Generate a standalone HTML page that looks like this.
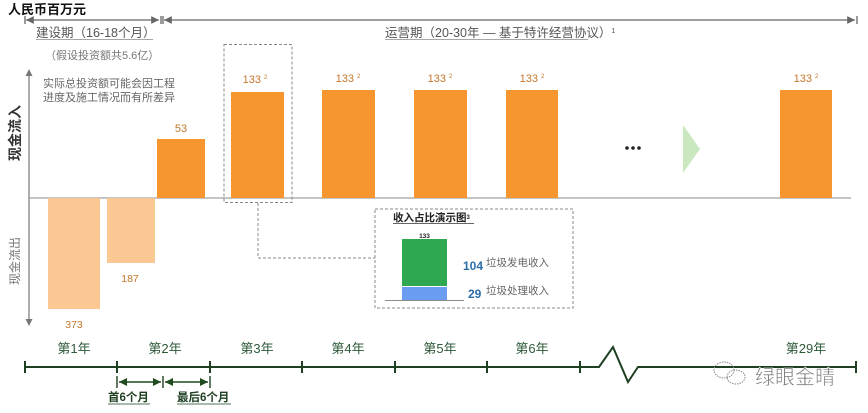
<!DOCTYPE html>
<html><head><meta charset="utf-8">
<style>
html,body{margin:0;padding:0;background:#fff;}
svg{display:block;font-family:"Liberation Sans","Noto Sans CJK SC",sans-serif;}
</style></head>
<body>
<svg width="868" height="413" viewBox="0 0 868 413" xmlns="http://www.w3.org/2000/svg">
<defs>
<marker id="ah" viewBox="0 0 10 10" refX="10" refY="5" markerWidth="6" markerHeight="6" orient="auto-start-reverse"><path d="M0,0 L10,5 L0,10 z" fill="#666"/></marker>
<marker id="ag" viewBox="0 0 10 10" refX="10" refY="5" markerWidth="5" markerHeight="5" orient="auto-start-reverse"><path d="M0,0 L10,5 L0,10 z" fill="#1e4a1e"/></marker>
</defs>
<rect width="868" height="413" fill="#fff"/>
<text x="8" y="14" font-size="13" font-weight="bold" fill="#111">人民币百万元</text>
<line x1="25" y1="16" x2="25" y2="24" stroke="#666" stroke-width="1.3"/>
<line x1="26" y1="20" x2="159" y2="20" stroke="#666" stroke-width="1.3" marker-start="url(#ah)" marker-end="url(#ah)"/>
<line x1="161" y1="16" x2="161" y2="24" stroke="#666" stroke-width="1.3"/>
<line x1="163" y1="16" x2="163" y2="24" stroke="#666" stroke-width="1.3"/>
<line x1="164" y1="20" x2="855" y2="20" stroke="#666" stroke-width="1.3" marker-start="url(#ah)" marker-end="url(#ah)"/>
<line x1="857" y1="16" x2="857" y2="24" stroke="#666" stroke-width="1.3"/>
<text x="36" y="37" font-size="12.5" fill="#555">建设期（16-18个月）</text>
<line x1="36" y1="39.5" x2="153" y2="39.5" stroke="#888" stroke-width="0.8"/>
<text x="385" y="37" font-size="12.5" fill="#555">运营期（20-30年 — 基于特许经营协议）<tspan font-size="7" dy="-4">1</tspan></text>
<line x1="385" y1="39.5" x2="588" y2="39.5" stroke="#888" stroke-width="0.8"/>
<text x="45" y="59" font-size="11" fill="#777">（假设投资额共5.6亿）</text>
<text x="43" y="87" font-size="11" fill="#666">实际总投资额可能会因工程</text>
<text x="43" y="101" font-size="11" fill="#666">进度及施工情况而有所差异</text>
<line x1="29" y1="74" x2="29" y2="322" stroke="#777" stroke-width="1.2"/>
<path d="M25.5,76 L29,69 L32.5,76 z" fill="#777"/>
<path d="M25.5,319 L29,326 L32.5,319 z" fill="#777"/>
<text transform="translate(20,133) rotate(-90)" font-size="14" font-weight="bold" fill="#333" text-anchor="middle">现金流入</text>
<text transform="translate(19,261) rotate(-90)" font-size="12" fill="#777" text-anchor="middle">现金流出</text>
<line x1="29" y1="198" x2="851" y2="198" stroke="#888" stroke-width="1"/>
<rect x="48" y="198" width="52" height="111" fill="#FBC894"/>
<rect x="107" y="198" width="48" height="65" fill="#FBC894"/>
<text x="74" y="328" font-size="10.5" fill="#c6762a" text-anchor="middle">373</text>
<text x="130" y="282" font-size="10.5" fill="#c6762a" text-anchor="middle">187</text>
<rect x="157" y="139" width="48" height="59" fill="#F7962F"/>
<text x="181" y="132" font-size="11" fill="#c6762a" text-anchor="middle">53</text>
<rect x="231" y="92" width="53" height="106" fill="#F7962F"/>
<rect x="322" y="90" width="53" height="108" fill="#F7962F"/>
<rect x="414" y="90" width="53" height="108" fill="#F7962F"/>
<rect x="506" y="90" width="52" height="108" fill="#F7962F"/>
<rect x="780" y="90" width="52" height="108" fill="#F7962F"/>
<g font-size="11" fill="#c6762a" text-anchor="middle">
<text x="255" y="83">133 <tspan font-size="6" dy="-4">2</tspan></text>
<text x="348" y="82">133 <tspan font-size="6" dy="-4">2</tspan></text>
<text x="440" y="82">133 <tspan font-size="6" dy="-4">2</tspan></text>
<text x="532" y="82">133 <tspan font-size="6" dy="-4">2</tspan></text>
<text x="806" y="82">133 <tspan font-size="6" dy="-4">2</tspan></text>
</g>
<circle cx="627" cy="148" r="1.8" fill="#222"/>
<circle cx="633" cy="148" r="1.8" fill="#222"/>
<circle cx="639" cy="148" r="1.8" fill="#222"/>
<path d="M683,125 L700,149 L683,173 z" fill="#c9e8bf"/>
<rect x="224" y="44.5" width="68" height="158" fill="none" stroke="#888" stroke-width="1" stroke-dasharray="3,2"/>
<path d="M258,203 L258,258 L375,258" fill="none" stroke="#888" stroke-width="1" stroke-dasharray="3,2"/>
<rect x="375" y="209" width="198" height="99" fill="none" stroke="#888" stroke-width="1" stroke-dasharray="3,2"/>
<text x="393" y="221" font-size="10.5" font-weight="bold" fill="#222">收入占比演示图<tspan font-size="6" dy="-2">3</tspan></text>
<line x1="393" y1="223.5" x2="474" y2="223.5" stroke="#333" stroke-width="0.8"/>
<rect x="402" y="239" width="45" height="47" fill="#2FA84F"/>
<rect x="402" y="287" width="45" height="13" fill="#6A9DF2"/>
<line x1="385" y1="300.5" x2="464" y2="300.5" stroke="#666" stroke-width="0.8"/>
<text x="424.5" y="238" font-size="6.5" font-weight="bold" fill="#222" text-anchor="middle">133</text>
<text x="463" y="270" font-size="12" font-weight="bold" fill="#2c6ea8">104</text>
<text x="486" y="266" font-size="10.5" fill="#666">垃圾发电收入</text>
<text x="468" y="298" font-size="12" font-weight="bold" fill="#2c6ea8">29</text>
<text x="486" y="294" font-size="10.5" fill="#666">垃圾处理收入</text>
<g font-size="13" fill="#2f5a3a" text-anchor="middle">
<text x="74" y="353">第1年</text>
<text x="165" y="353">第2年</text>
<text x="257" y="353">第3年</text>
<text x="348" y="353">第4年</text>
<text x="440" y="353">第5年</text>
<text x="532" y="353">第6年</text>
<text x="806" y="353">第29年</text>
</g>
<g stroke="#1e3f22" stroke-width="2" fill="none">
<path d="M25,367 L599,367 L613,347 L628,382 L638,367 L856,367"/>
<line x1="25" y1="361" x2="25" y2="373"/>
<line x1="117" y1="361" x2="117" y2="373"/>
<line x1="210" y1="361" x2="210" y2="373"/>
<line x1="302" y1="361" x2="302" y2="373"/>
<line x1="395" y1="361" x2="395" y2="373"/>
<line x1="487" y1="361" x2="487" y2="373"/>
<line x1="580" y1="361" x2="580" y2="373"/>
<line x1="856" y1="361" x2="856" y2="373"/>
<line x1="117" y1="376" x2="117" y2="388" stroke-width="1.4"/>
<line x1="163" y1="376" x2="163" y2="388" stroke-width="1.4"/>
<line x1="210" y1="376" x2="210" y2="388" stroke-width="1.4"/>
</g>
<line x1="119" y1="382" x2="161" y2="382" stroke="#1e4a1e" stroke-width="1.6" marker-start="url(#ag)" marker-end="url(#ag)"/>
<line x1="165" y1="382" x2="208" y2="382" stroke="#1e4a1e" stroke-width="1.6" marker-start="url(#ag)" marker-end="url(#ag)"/>
<text x="108" y="401" font-size="11.5" font-weight="bold" fill="#1e3f22">首6个月</text>
<line x1="108" y1="404" x2="150" y2="404" stroke="#1e3f22" stroke-width="0.8"/>
<text x="177" y="401" font-size="11.5" font-weight="bold" fill="#1e3f22">最后6个月</text>
<line x1="177" y1="404" x2="231" y2="404" stroke="#1e3f22" stroke-width="0.8"/>
<g fill="none" stroke="#888" stroke-width="1" stroke-dasharray="1.5,1">
<ellipse cx="724" cy="370" rx="10" ry="8"/>
<ellipse cx="736" cy="377" rx="9" ry="7"/>
</g>
<text x="755" y="384" font-size="20" fill="#777" stroke="#fff" stroke-width="0.5">绿眼金晴</text>
</svg>
</body></html>
